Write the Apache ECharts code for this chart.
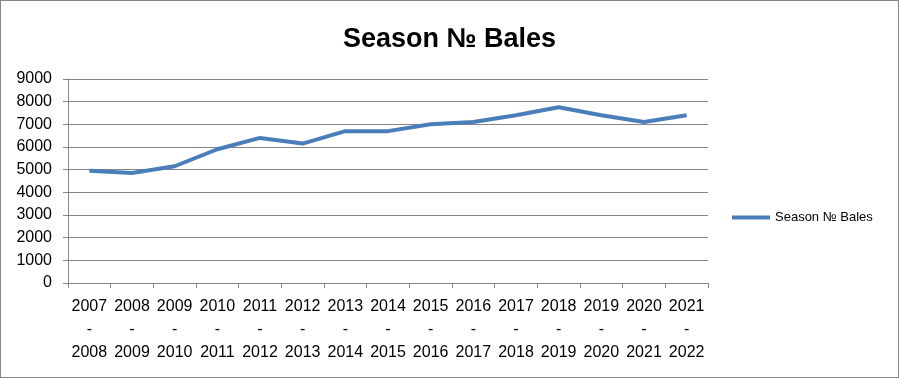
<!DOCTYPE html>
<html>
<head>
<meta charset="utf-8">
<script src="https://cdn.jsdelivr.net/npm/echarts@6/dist/echarts.min.js"></script>
<style>
html,body{margin:0;padding:0;background:#fff;}
#c{width:899px;height:378px;box-sizing:border-box;border:1px solid #868686;}
</style>
</head>
<body>
<div id="c"></div>
<script>
const title = "Season № Bales";
const seriesName = "Season № Bales";
const categories = ["2007\n-\n2008","2008\n-\n2009","2009\n-\n2010","2010\n-\n2011","2011\n-\n2012","2012\n-\n2013","2013\n-\n2014","2014\n-\n2015","2015\n-\n2016","2016\n-\n2017","2017\n-\n2018","2018\n-\n2019","2019\n-\n2020","2020\n-\n2021","2021\n-\n2022"];
const bales = [4950, 4850, 5150, 5900, 6400, 6150, 6700, 6700, 7000, 7100, 7400, 7750, 7400, 7100, 7400];
const yMin = 0, yMax = 9000, yStep = 1000;

const font = "'Liberation Sans', Arial, sans-serif";
const chart = echarts.init(document.getElementById('c'));
chart.setOption({
  animation: false,
  title: {
    text: title, left: 'center', top: 20,
    textStyle: {fontFamily: font, fontSize: 27, fontWeight: 'bold', color: '#000'}
  },
  legend: {
    orient: 'vertical', left: 726, top: 205,
    itemWidth: 38, itemHeight: 4, itemGap: 0,
    icon: 'rect',
    textStyle: {fontFamily: font, fontSize: 13, color: '#000'},
    data: [seriesName]
  },
  grid: {left: 67, right: 190, top: 78, bottom: 94, containLabel: false},
  xAxis: {
    type: 'category', data: categories, boundaryGap: true,
    axisLine: {lineStyle: {color: '#868686', width: 1}},
    axisTick: {show: true, length: 5, inside: false, lineStyle: {color: '#868686'}},
    axisLabel: {fontFamily: font, fontSize: 16, color: '#000', lineHeight: 23, margin: 12, interval: 0}
  },
  yAxis: {
    type: 'value', min: yMin, max: yMax, interval: yStep,
    axisLine: {show: true, lineStyle: {color: '#868686', width: 1}},
    axisTick: {show: true, length: 5, lineStyle: {color: '#868686'}},
    splitLine: {lineStyle: {color: '#868686', width: 1}},
    axisLabel: {fontFamily: font, fontSize: 16, color: '#000', margin: 16, formatter: function (v) { return String(v); }}
  },
  series: [{
    name: seriesName, type: 'line', data: bales,
    showSymbol: false, symbol: 'none',
    lineStyle: {color: '#4a7ebb', width: 4},
    itemStyle: {color: '#4a7ebb'}
  }]
});
</script>
</body>
</html>
